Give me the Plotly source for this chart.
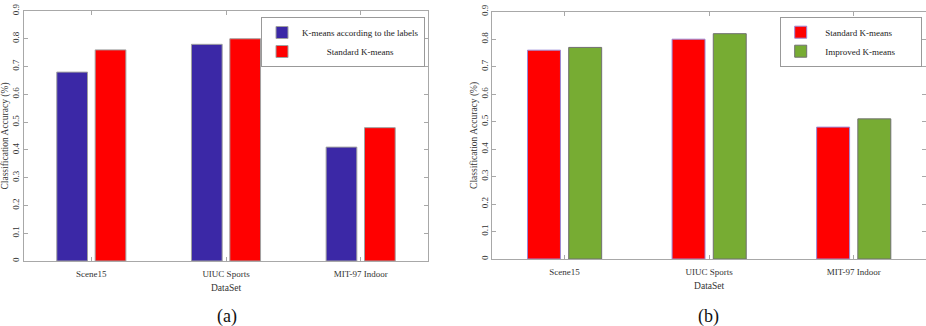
import plotly.graph_objects as go

categories = ["Scene15", "UIUC Sports", "MIT-97 Indoor"]
labels_kmeans_a = [0.68, 0.78, 0.41]
standard_kmeans_a = [0.76, 0.80, 0.48]
standard_kmeans_b = [0.76, 0.80, 0.48]
improved_kmeans_b = [0.77, 0.82, 0.51]
y_ticks = [0, 0.1, 0.2, 0.3, 0.4, 0.5, 0.6, 0.7, 0.8, 0.9]
y_tick_text = ["0", "0.1", "0.2", "0.3", "0.4", "0.5", "0.6", "0.7", "0.8", "0.9"]

FONT = "Liberation Serif, Times New Roman, serif"
NB = "\u00a0"
W, H = 926, 326

fig = go.Figure()
fig.add_trace(go.Bar(x=categories, y=labels_kmeans_a, name="K-means according to the labels",
                     marker=dict(color="#3b28a6", line=dict(color="#a0a0a0", width=1)),
                     xaxis="x", yaxis="y", legend="legend"))
fig.add_trace(go.Bar(x=categories, y=standard_kmeans_a, name=NB * 11 + "Standard K-means",
                     marker=dict(color="#ff0000", line=dict(color="#a0a0a0", width=1)),
                     xaxis="x", yaxis="y", legend="legend"))
fig.add_trace(go.Bar(x=categories, y=standard_kmeans_b, name=NB * 2 + "Standard K-means" + NB * 9,
                     marker=dict(color="#ff0000", line=dict(color="#9a8ad8", width=1)),
                     xaxis="x2", yaxis="y2", legend="legend2"))
fig.add_trace(go.Bar(x=categories, y=improved_kmeans_b, name=NB * 2 + "Improved K-means" + NB * 9,
                     marker=dict(color="#77ac33", line=dict(color="#707070", width=1)),
                     xaxis="x2", yaxis="y2", legend="legend2"))

axis_line = "#a8a8a8"
tickfont = dict(family=FONT, size=9, color="#333")
titlefont = dict(family=FONT, size=9.5, color="#333")

def xaxis(domain, anchor):
    return dict(domain=domain, anchor=anchor, type="category", range=[-0.5, 2.5],
                showline=True, linecolor=axis_line, linewidth=1, mirror="ticks",
                ticks="inside", ticklen=4, tickcolor=axis_line, showgrid=False,
                tickfont=tickfont, zeroline=False, automargin=False, ticklabelstandoff=4,
                title=dict(text="DataSet", font=titlefont, standoff=6))

def yaxis(domain, anchor):
    return dict(domain=domain, anchor=anchor, range=[0, 0.9], tickvals=y_ticks,
                ticktext=y_tick_text, tickangle=-90,
                showline=True, linecolor=axis_line, linewidth=1, mirror="ticks",
                ticks="inside", ticklen=4, tickcolor=axis_line, showgrid=False,
                tickfont=tickfont, zeroline=False, automargin=False,
                title=dict(text="Classification Accuracy (%)", font=titlefont, standoff=0))

legend_common = dict(bordercolor="#999", borderwidth=1, bgcolor="white",
                     font=dict(family=FONT, size=9, color="#222"), traceorder="normal",
                     itemwidth=30, tracegroupgap=0)

fig.update_layout(
    width=W, height=H,
    margin=dict(l=0, r=0, t=0, b=0),
    plot_bgcolor="white", paper_bgcolor="white",
    barmode="group", bargap=0.43, bargroupgap=0.2,
    xaxis=xaxis([24 / W, 428 / W], "y"),
    yaxis=yaxis([(H - 261) / H, (H - 11) / H], "x"),
    xaxis2=xaxis([492.3 / W, 1.0], "y2"),
    yaxis2=yaxis([(H - 259) / H, (H - 11.7) / H], "x2"),
    legend=dict(x=425 / W, y=1 - 17 / H, xanchor="right", yanchor="top", **legend_common),
    legend2=dict(x=921.7 / W, y=1 - 16.7 / H, xanchor="right", yanchor="top", **legend_common),
    showlegend=True,
    annotations=[
        dict(text="(a)", x=227 / W, y=1 - 316 / H, xref="paper", yref="paper",
             xanchor="center", yanchor="middle",
             showarrow=False, font=dict(family=FONT, size=18, color="#111")),
        dict(text="(b)", x=708 / W, y=1 - 316 / H, xref="paper", yref="paper",
             xanchor="center", yanchor="middle",
             showarrow=False, font=dict(family=FONT, size=18, color="#111")),
    ],
)

fig.write_html("out.html",
               config={"displayModeBar": False},
               post_script="document.body.style.margin='0';document.body.style.overflow='hidden';")
